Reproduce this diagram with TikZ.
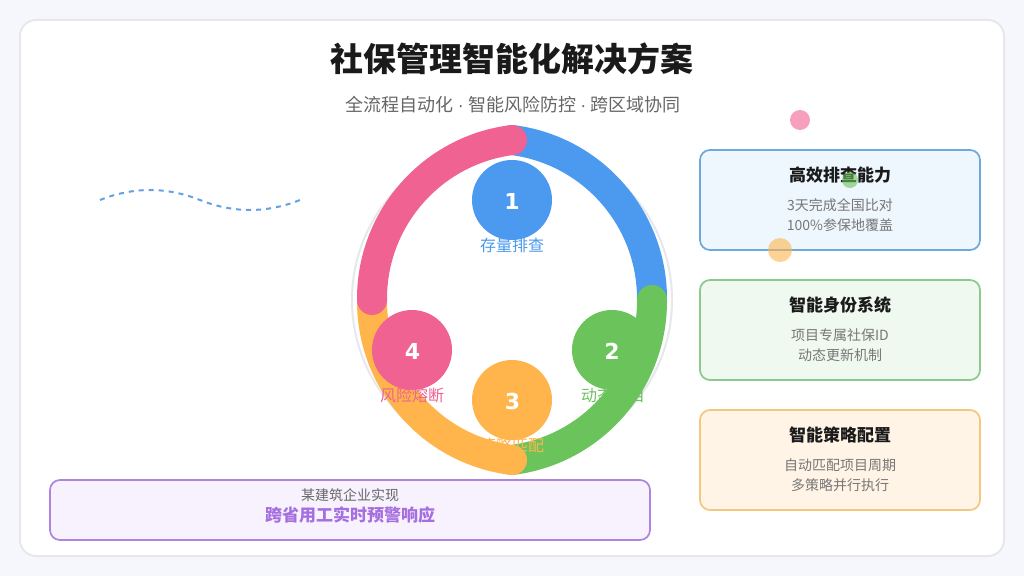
\documentclass[tikz,border=0pt]{standalone}
\usepackage{fontspec}
\setmainfont{Noto Sans CJK SC}
\newfontfamily\numfont{DejaVu Sans}
\newfontfamily\dotfont[WordSpace=0.85]{Liberation Sans}
\definecolor{cbg}{HTML}{F6F7FC}
\definecolor{cedge}{HTML}{E6E8EC}
\definecolor{cblue}{HTML}{4C9AF0}
\definecolor{cgreen}{HTML}{6BC35B}
\definecolor{corange}{HTML}{FFB54C}
\definecolor{cpink}{HTML}{F06292}
\definecolor{cpurple}{HTML}{A56FE0}
\definecolor{cdark}{HTML}{1A1A1A}
\definecolor{cgrey}{HTML}{666666}
\definecolor{ctext}{HTML}{777777}
\definecolor{bblue}{HTML}{6FA8DC}
\definecolor{fblue}{HTML}{EEF6FE}
\definecolor{bgreen}{HTML}{8CC98A}
\definecolor{fgreen}{HTML}{EFF9EF}
\definecolor{borange}{HTML}{F4C77E}
\definecolor{forange}{HTML}{FFF4E6}
\definecolor{bpurple}{HTML}{AD85E0}
\definecolor{fpurple}{HTML}{F8F2FF}
\tikzset{
  x=0.75pt,y=0.75pt,
  ringarc/.style={line width=22.5pt,line cap=round},
  stepdisc/.style={circle,minimum size=60pt,inner sep=0pt,fill=#1},
  stepnum/.style={inner sep=0pt,text=white,font=\numfont\bfseries\fontsize{16.5}{18}\selectfont},
  steplabel/.style={font=\fontsize{12}{14}\selectfont,inner sep=0pt},
  infobox/.style={rounded corners=7.5pt,line width=1.3pt,minimum width=210pt,minimum height=75pt,inner sep=0pt},
  boxtitle/.style={font=\fontsize{12.75}{15}\selectfont\bfseries,text=cdark,inner sep=0pt},
  boxtext/.style={font=\fontsize{10.5}{15}\selectfont,text=ctext,align=center,inner sep=0pt},
}
\begin{document}
\begin{tikzpicture}
\useasboundingbox (0,0) rectangle (1024,576);
\fill[cbg] (0,0) rectangle (1024,576);
\node[draw=cedge,fill=white,line width=1.5pt,rounded corners=12pt,minimum width=738pt,minimum height=402pt,inner sep=0pt] (card) at (512,288) {};
\node[inner sep=0pt,font=\fontsize{24.7}{28}\selectfont\bfseries,text=cdark] (title) at (512,517) {社保管理智能化解决方案};
\node[inner sep=0pt,font=\fontsize{13.5}{16}\selectfont,text=cgrey] (subtitle) at (513,471.5) {全流程自动化{\dotfont\ ·\ }智能风险防控{\dotfont\ ·\ }跨区域协同};
\draw[cedge,line width=1.5pt] (512,276) circle (160);
\draw[cblue,ringarc] (512,436) arc[start angle=82.82,end angle=-0.43,radius=120pt];
\draw[cgreen,ringarc] (652,276) arc[start angle=0.43,end angle=-82.82,radius=120pt];
\draw[corange,ringarc] (512,116) arc[start angle=-97.18,end angle=-180.43,radius=120pt];
\draw[cpink,ringarc] (372,276) arc[start angle=180.43,end angle=97.18,radius=120pt];
\node[stepdisc=cblue] (s1) at (512,376) {};
\node[stepdisc=cgreen] (s2) at (612,226) {};
\node[stepdisc=corange] (s3) at (512,176) {};
\node[stepdisc=cpink] (s4) at (412,226) {};
\node[stepnum] (n1) at (512,374.5) {1};
\node[stepnum] (n2) at (612,224.5) {2};
\node[stepnum] (n3) at (512.5,174.5) {3};
\node[stepnum] (n4) at (412.5,224.5) {4};
\node[steplabel,text=cblue] (l1) at (512,331) {存量排查};
\node[steplabel,text=cgreen] (l2) at (613,181) {动态项目};
\node[steplabel,text=corange] (l3) at (512,131) {策略匹配};
\node[steplabel,text=cpink] (l4) at (412,181) {风险熔断};
\node[infobox,draw=bblue,fill=fblue] (b1) at (840,376) {};
\node[infobox,draw=bgreen,fill=fgreen] (b2) at (840,246) {};
\node[infobox,draw=borange,fill=forange] (b3) at (840,116) {};
\node[boxtitle] (t1) at (840,401) {高效排查能力};
\node[boxtext] (d1) at (840,361) {3天完成全国比对\\100\%参保地覆盖};
\node[boxtitle] (t2) at (840,271) {智能身份系统};
\node[boxtext] (d2) at (840,231) {项目专属社保ID\\动态更新机制};
\node[boxtitle] (t3) at (840,141) {智能策略配置};
\node[boxtext] (d3) at (840,101) {自动匹配项目周期\\多策略并行执行};
\fill[cpink,opacity=.6] (800,456) circle (10);
\fill[cgreen,opacity=.6] (850,396) circle (8);
\fill[corange,opacity=.6] (780,326) circle (12);
\node[draw=bpurple,fill=fpurple,line width=1.3pt,rounded corners=7.5pt,minimum width=450pt,minimum height=45pt,inner sep=0pt] (case) at (350,66) {};
\node[inner sep=0pt,font=\fontsize{10.5}{12}\selectfont,text=cgrey] (c1) at (350,81) {某建筑企业实现};
\node[inner sep=0pt,font=\fontsize{12.75}{15}\selectfont\bfseries,text=cpurple] (c2) at (350,61) {跨省用工实时预警响应};
\coordinate (w0) at (100,376);
\coordinate (w1) at (200,376);
\coordinate (w2) at (300,376);
\draw[cblue!85!gray,line width=1.5pt,dash pattern=on 3.75pt off 3.75pt,opacity=.9] (w0) .. controls (133.3,389.3) and (166.7,389.3) .. (w1) .. controls (233.3,362.7) and (266.7,362.7) .. (w2);
\end{tikzpicture}
\end{document}
